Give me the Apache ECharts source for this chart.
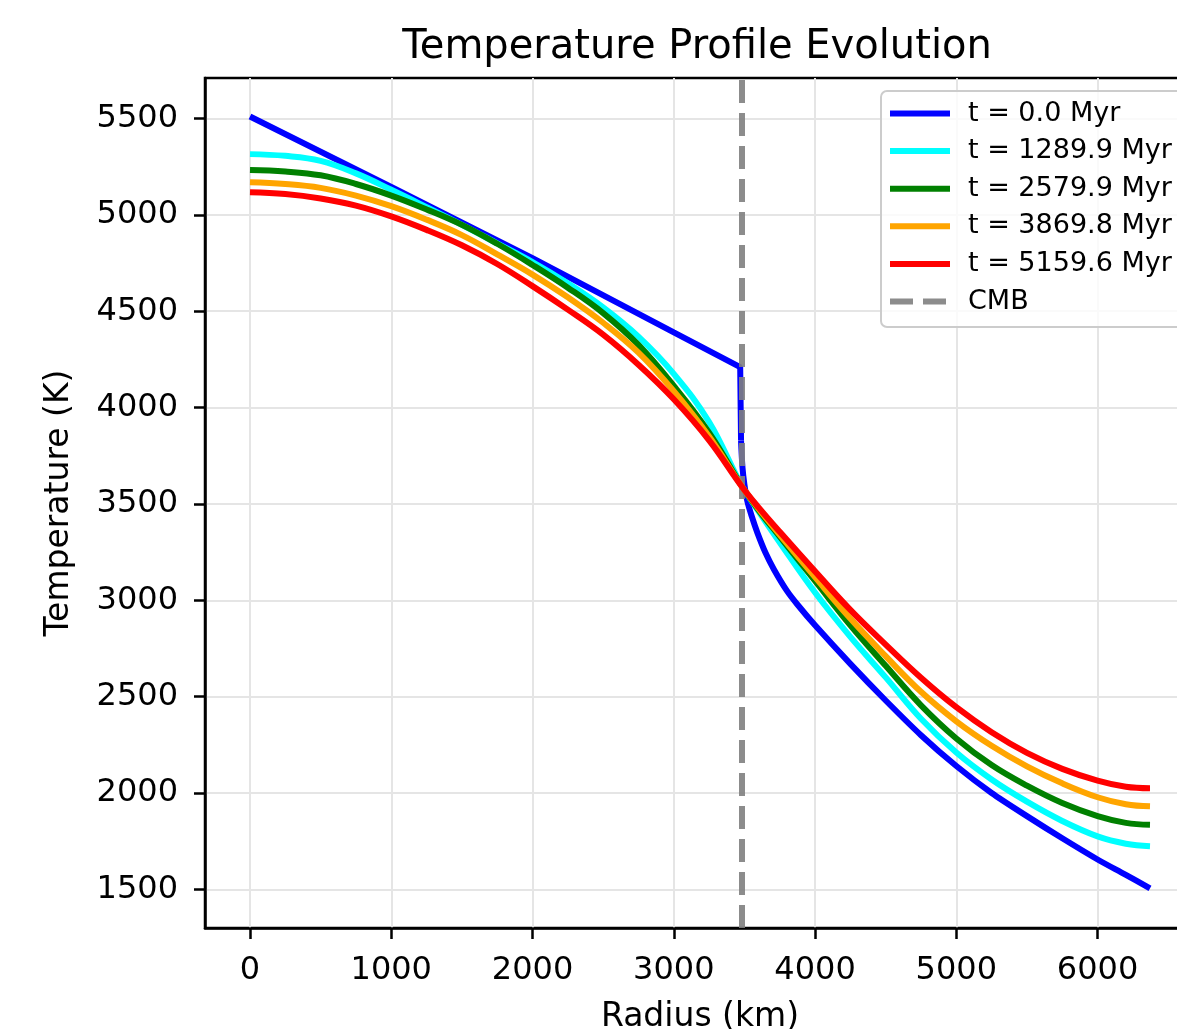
<!DOCTYPE html>
<html>
<head>
<meta charset="utf-8">
<script src="https://cdn.jsdelivr.net/npm/echarts@6/dist/echarts.min.js"></script>
<style>
  html, body { margin: 0; padding: 0; background: #ffffff; }
  #chart { width: 1177px; height: 1029px; }
</style>
</head>
<body>
<div id="chart"></div>
<script>
// ---- data ----
const timesMyr = [0.0, 1289.9, 2579.9, 3869.8, 5159.6];
const cmbRadiusKm = 3480;

// t = 0 profile: core part (ends with the step at the CMB) and mantle part
const blueCoreRadius   = [0, 1000, 2000, 3000, 3470, 3476];
const blueCoreTemp     = [5510, 5145, 4775, 4390, 4210, 3830];
const blueMantleRadius = [3476, 3486, 3500, 3521, 3550, 3592, 3650, 3709, 3800, 3875, 4000, 4250, 4500, 4750, 5000, 5250, 5500, 5750, 6000, 6200, 6371];
const blueMantleTemp   = [3830, 3690, 3600, 3513, 3440, 3350, 3245, 3160, 3050, 2978, 2870, 2670, 2480, 2300, 2140, 2000, 1880, 1765, 1655, 1575, 1505];

// later profiles share one radius sampling
const radiusKm   = [0, 250, 500, 750, 1000, 1250, 1500, 1750, 2000, 2250, 2500, 2750, 3000, 3250, 3480, 3600, 3750, 4000, 4250, 4500, 4750, 5000, 5250, 5500, 5750, 6000, 6200, 6371];
const cyanTemp   = [5315, 5306, 5280, 5215, 5130, 5040, 4948, 4852, 4755, 4645, 4520, 4368, 4175, 3925, 3596, 3462, 3300, 3040, 2810, 2600, 2385, 2210, 2070, 1955, 1855, 1775, 1737, 1724];
const greenTemp  = [5233, 5225, 5205, 5160, 5100, 5028, 4948, 4850, 4740, 4622, 4490, 4325, 4112, 3870, 3594, 3468, 3330, 3100, 2870, 2660, 2455, 2283, 2145, 2038, 1948, 1880, 1845, 1835];
const orangeTemp = [5169, 5160, 5140, 5100, 5045, 4975, 4895, 4795, 4690, 4572, 4440, 4285, 4085, 3850, 3593, 3475, 3340, 3120, 2905, 2710, 2525, 2372, 2245, 2138, 2050, 1978, 1942, 1931];
const redTemp    = [5117, 5108, 5085, 5048, 4992, 4922, 4842, 4745, 4630, 4508, 4378, 4222, 4043, 3830, 3592, 3482, 3355, 3150, 2950, 2770, 2598, 2445, 2315, 2208, 2125, 2064, 2032, 2024];

const xTicks = [0, 1000, 2000, 3000, 4000, 5000, 6000];
const yTicks = [1500, 2000, 2500, 3000, 3500, 4000, 4500, 5000, 5500];

// ---- chart ----
const FONT = 'DejaVu Sans';
const colors = ['#0000ff', '#00ffff', '#008000', '#ffa500', '#ff0000'];
const names = timesMyr.map(t => 't = ' + t.toFixed(1) + ' Myr');
const toPairs = (rs, ts) => rs.map((r, k) => [r, ts[k]]);

const profiles = [
  { name: names[0], color: colors[0], data: toPairs(blueCoreRadius, blueCoreTemp), smooth: false, z: 2 },
  { name: names[0], color: colors[0], data: toPairs(blueMantleRadius, blueMantleTemp), smooth: 0.3, z: 2 },
  { name: names[1], color: colors[1], data: toPairs(radiusKm, cyanTemp), smooth: 0.4, z: 3 },
  { name: names[2], color: colors[2], data: toPairs(radiusKm, greenTemp), smooth: 0.4, z: 4 },
  { name: names[3], color: colors[3], data: toPairs(radiusKm, orangeTemp), smooth: 0.4, z: 5 },
  { name: names[4], color: colors[4], data: toPairs(radiusKm, redTemp), smooth: 0.4, z: 6 }
];

const series = profiles.map(p => ({
  name: p.name,
  type: 'line',
  data: p.data,
  smooth: p.smooth,
  symbol: 'none',
  showSymbol: false,
  lineStyle: { color: p.color, width: 6 },
  itemStyle: { color: p.color },
  z: p.z
}));
series.push({
  name: 'CMB',
  type: 'line',
  data: [],
  symbol: 'none',
  lineStyle: { color: '#808080', width: 6, type: [23, 10], opacity: 0.9 },
  itemStyle: { color: '#808080' },
  z: 10,
  markLine: {
    silent: true,
    symbol: ['none', 'none'],
    label: { show: false },
    lineStyle: { color: '#808080', width: 6, type: [23, 10], opacity: 0.9 },
    data: [{ xAxis: cmbRadiusKm }]
  }
});

const plainNum = v => String(v);

const chart = echarts.init(document.getElementById('chart'), null, { renderer: 'canvas' });
chart.setOption({
  animation: false,
  backgroundColor: '#ffffff',
  title: {
    text: 'Temperature Profile Evolution',
    left: 697, top: 26, textAlign: 'center', padding: 0,
    textStyle: { fontFamily: FONT, fontSize: 40, fontWeight: 'normal', color: '#000', lineHeight: 44 }
  },
  grid: {
    left: 205, top: 78, width: 990, height: 850,
    outerBoundsMode: 'none', containLabel: false,
    show: true, borderColor: '#000', borderWidth: 2.5, backgroundColor: 'transparent'
  },
  legend: {
    orient: 'vertical', left: 881, top: 91,
    padding: [9, 40, 12, 6],
    itemWidth: 60, itemHeight: 14, itemGap: 10.6,
    backgroundColor: 'rgba(255,255,255,0.8)', borderColor: '#cccccc', borderWidth: 2, borderRadius: 6,
    textStyle: { fontFamily: FONT, fontSize: 27, color: '#000', lineHeight: 27, padding: [0, 0, 0, 13] },
    lineStyle: { width: 6 },
    itemStyle: { opacity: 0 },
    data: names.concat(['CMB'])
  },
  xAxis: {
    type: 'value', min: -318.55, max: 6689.55,
    name: 'Radius (km)', nameLocation: 'middle', nameGap: 71,
    nameTextStyle: { fontFamily: FONT, fontSize: 33, color: '#000', lineHeight: 36 },
    axisLine: { show: true, onZero: false, lineStyle: { color: '#000', width: 2.5 } },
    axisTick: { show: true, length: 11, lineStyle: { color: '#000', width: 2.5 }, customValues: xTicks },
    axisLabel: { customValues: xTicks, formatter: plainNum, margin: 25, fontFamily: FONT, fontSize: 32, color: '#000', lineHeight: 36 },
    splitLine: { show: true, lineStyle: { color: '#e5e5e5', width: 2 } }
  },
  yAxis: {
    type: 'value', min: 1299.5, max: 5710,
    name: 'Temperature (K)', nameLocation: 'middle', nameGap: 128, nameRotate: 90,
    nameTextStyle: { fontFamily: FONT, fontSize: 33, color: '#000', lineHeight: 36 },
    axisLine: { show: true, onZero: false, lineStyle: { color: '#000', width: 2.5 } },
    axisTick: { show: true, length: 11, lineStyle: { color: '#000', width: 2.5 }, customValues: yTicks },
    axisLabel: { customValues: yTicks, formatter: plainNum, margin: 27, fontFamily: FONT, fontSize: 32, color: '#000' },
    splitLine: { show: true, lineStyle: { color: '#e5e5e5', width: 2 } }
  },
  series: series
});
</script>
</body>
</html>
